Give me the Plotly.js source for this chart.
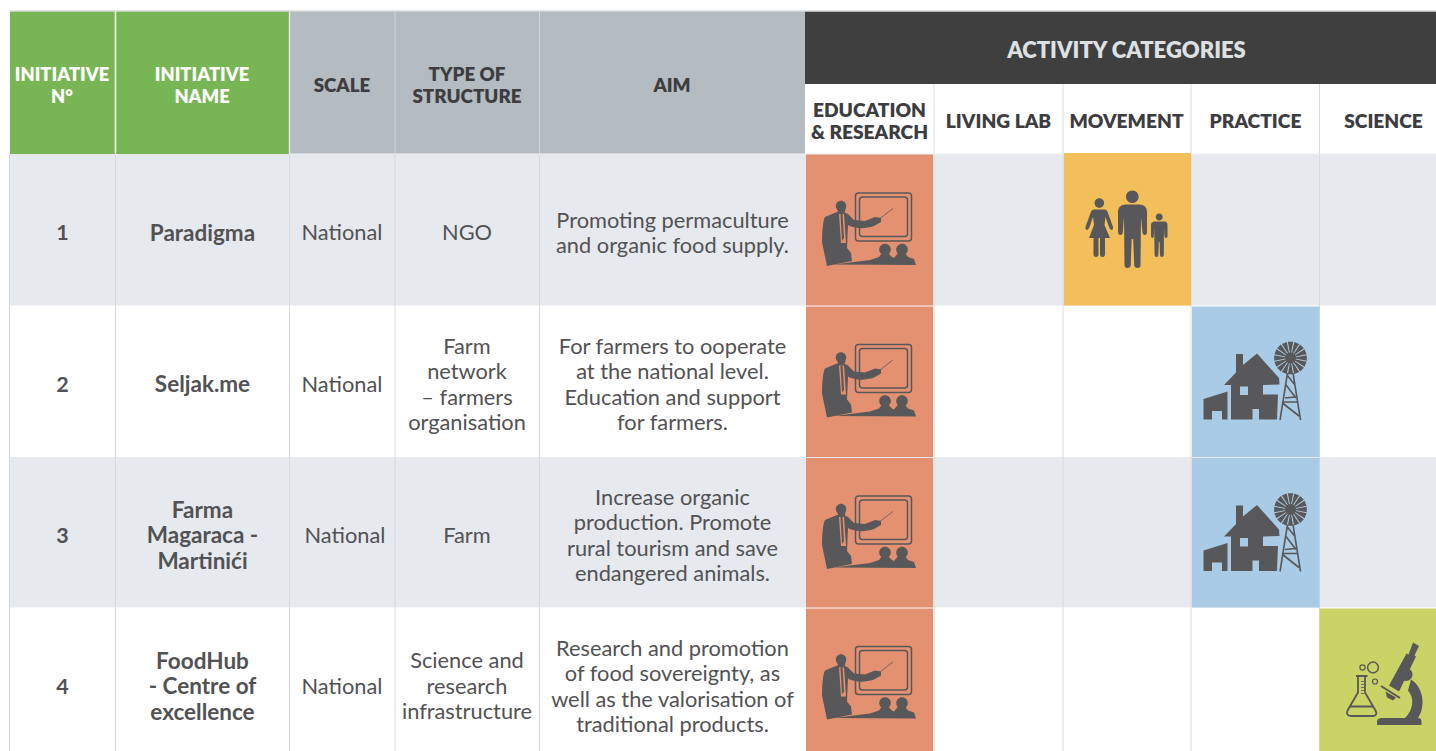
<!DOCTYPE html>
<html><head><meta charset="utf-8">
<script src="https://cdn.plot.ly/plotly-3.0.1.min.js"></script>
<style>html,body{margin:0;padding:0;background:#fff;overflow:hidden}</style></head>
<body><div id="chart" style="width:1436px;height:751px"></div>
<script>
// ---------- table content ----------
const groupHeader = "ACTIVITY CATEGORIES";
const leadHeaders = ["INITIATIVE<br>N°", "INITIATIVE<br>NAME", "SCALE", "TYPE OF<br>STRUCTURE", "AIM"];
const activityHeaders = ["EDUCATION<br>&amp; RESEARCH", "LIVING LAB", "MOVEMENT", "PRACTICE", "SCIENCE"];
const numbers = ["1", "2", "3", "4"];
const names = ["Paradigma", "Seljak.me", "Farma<br>Magaraca -<br>Martinići", "FoodHub<br>- Centre of<br>excellence"];
const scales = ["National", "National", "National", "National"];
const structures = ["NGO", "Farm<br>network<br>– farmers<br>organisation", "Farm", "Science and<br>research<br>infrastructure"];
const aims = [
  "Promoting permaculture<br>and organic food supply.",
  "For farmers to ooperate<br>at the national level.<br>Education and support<br>for farmers.",
  "Increase organic<br>production. Promote<br>rural tourism and save<br>endangered animals.",
  "Research and promotion<br>of food sovereignty, as<br>well as the valorisation of<br>traditional products."
];
const activities = [
  [1, 0, 1, 0, 0],
  [1, 0, 0, 1, 0],
  [1, 0, 0, 1, 0],
  [1, 0, 0, 0, 1]
];

// ---------- layout geometry and style ----------
const colEdges = [10, 115.5, 289.5, 395, 539.5, 805, 934, 1063, 1191, 1319.5, 1436];
const rowEdges = [154, 305.5, 457, 607.5, 751];
const tableTop = 11.5, groupBottom = 84;
const activityColors = ["#e39170", "#e6e9ee", "#f2bf5b", "#a9cbe6", "#cad365"];
const ink = "#58585a", dark = "#3d3d3f", bodyInk = "#525254", rule = "#d6dade";
const FONT = "Lato, 'Open Sans', sans-serif";

const shapes = [];
function rect(x0, y0, x1, y1, color) {
  shapes.push({type: "rect", layer: "below", xref: "x", yref: "y", x0, y0, x1, y1, fillcolor: color, line: {width: 0}});
}
function vline(x, y0, y1, color, w) {
  shapes.push({type: "line", layer: "below", xref: "x", yref: "y", x0: x, x1: x, y0, y1, line: {color, width: w || 1}});
}
function hline(y, x0, x1, color, w) {
  shapes.push({type: "line", layer: "below", xref: "x", yref: "y", y0: y, y1: y, x0, x1, line: {color, width: w || 1}});
}

// header fills
rect(colEdges[0], tableTop, colEdges[2], rowEdges[0], "#78b554");
rect(colEdges[2], tableTop, colEdges[5], rowEdges[0], "#b4bbc1");
rect(colEdges[5], tableTop, colEdges[10], groupBottom, "#3f3f3f");
hline(tableTop - 0.5, colEdges[0], colEdges[10], "#c4c7ca", 1);

// row stripes
numbers.forEach((_, r) => { if (r % 2 === 0) rect(colEdges[0], rowEdges[r], colEdges[10], rowEdges[r + 1], "#e6e9ee"); });

// rules
vline(colEdges[0] - 0.5, rowEdges[0], 751, rule, 1);
vline(colEdges[1], tableTop, rowEdges[0], "#ffffff", 1.5);
vline(colEdges[2], tableTop, rowEdges[0], "#e3e6e9", 1.5);
[3, 4].forEach(i => vline(colEdges[i], tableTop, rowEdges[0], "#d0d5d9", 1));
[1, 2, 3, 4].forEach(i => vline(colEdges[i], rowEdges[0], 751, rule, 1));
[6, 7, 8, 9].forEach(i => vline(colEdges[i], groupBottom, 751, rule, 1));
hline(rowEdges[0], colEdges[2], colEdges[10], "#eceef0", 1);

// ---------- icon drawings, in local units ----------
function circ(cx, cy, r) {
  const k = r * 0.5523;
  return `M${cx - r},${cy} C${cx - r},${cy - k} ${cx - k},${cy - r} ${cx},${cy - r} C${cx + k},${cy - r} ${cx + r},${cy - k} ${cx + r},${cy} C${cx + r},${cy + k} ${cx + k},${cy + r} ${cx},${cy + r} C${cx - k},${cy + r} ${cx - r},${cy + k} ${cx - r},${cy} Z`;
}
function rrect(x0, y0, x1, y1, r) {
  return `M${x0 + r},${y0} L${x1 - r},${y0} Q${x1},${y0} ${x1},${y0 + r} L${x1},${y1 - r} Q${x1},${y1} ${x1 - r},${y1} L${x0 + r},${y1} Q${x0},${y1} ${x0},${y1 - r} L${x0},${y0 + r} Q${x0},${y0} ${x0 + r},${y0} Z`;
}
function wheelBlades(cx, cy, r0, r1, n) {
  let d = "";
  for (let i = 0; i < n; i++) {
    const a = i / n * 2 * Math.PI, w0 = 0.11, w1 = 0.16;
    const p = (rad, ang) => `${(cx + rad * Math.cos(ang)).toFixed(2)},${(cy + rad * Math.sin(ang)).toFixed(2)}`;
    d += `M${p(r0, a - w0)} L${p(r1, a - w1)} L${p(r1, a + w1)} L${p(r0, a + w0)} Z `;
  }
  return d;
}
const iconLecture = [
  {d: rrect(45.5, 23, 101.5, 71, 3), lw: 1.5},
  {d: rrect(49.5, 27, 97.5, 66.5, 3), lw: 1.5},
  {d: circ(31, 36, 5.2)},
  {d: "M27,34 L36,34 L35,42 L28,43 Z"},
  {d: "M27,42 L15,47 C13,50 12,62 12,72 L17,96 L42,91 L41,83 L37,78 L38,55 C45,59 55,59 64,56 L71,52 L71,48 L65,47 L55,51 L44,50 L38,44 L34,42 Z M29,44 L34,44 L36,73 L31,73 Z"},
  {d: "M30.5,44 L32.5,44 L34,68 L32,71 Z"},
  {d: "M70,48.5 L83,38.4", lw: 0.8},
  {d: circ(75, 79.5, 5.8)},
  {d: circ(92, 79.5, 5.8)},
  {d: "M24,94.5 L60,90 L69,87 L72,83 L78,83 L82,87 L84,88 L88,83 L95,83 L98,87 L104,89 L106,95 Z"}
];
const iconFamily = [
  {d: circ(62.3, 26.8, 6.3)},
  {d: "M55,34.5 L70,34.5 Q77,35 77,42 L77,62 Q77,65 74.8,65 Q72.6,65 72.4,62 L71,47 L70.5,95 Q70.5,98 67.5,98 Q64.5,98 64.2,95 L63.2,69 L61.6,69 L60.8,95 Q60.5,98 57.5,98 Q54.5,98 54.5,95 L54,47 L52.8,62 Q52.6,65 50.4,65 Q48.2,65 48,62 L48,42 Q48,35 55,34.5 Z"},
  {d: circ(29.3, 33, 4.8)},
  {d: "M24,39.5 L35,39.5 Q37,39.5 38,43 L43,57 Q43.5,60 41.5,60 Q40,60 39,57 L35.5,47 L34.5,55 L40,68 L35,68 L35,84 Q35,87 32.5,87 Q30,87 30,84 L30,68 L28.5,68 L28.5,84 Q28.5,87 26,87 Q23.5,87 23.5,84 L23.5,68 L19,68 L24,55 L23,47 L19.5,57 Q18.5,60 17,60 Q15,60 15.5,57 L20.5,43 Q21.5,39.5 24,39.5 Z"},
  {d: circ(89.2, 47, 3.5)},
  {d: "M84,51.5 L95,51.5 Q97.5,52 97.5,55 L97.5,66 Q97.5,68 96,68 Q94.5,68 94.5,66 L94,58 L93.8,85 Q93.8,87 91.8,87 Q90,87 90,85 L89.6,72 L88.8,72 L88.4,85 Q88.4,87 86.4,87 Q84.8,87 84.6,85 L84.2,58 L83.8,66 Q83.8,68 82.4,68 Q81,68 81,66 L81,55 Q81,52 84,51.5 Z"}
];
const iconFarm = [
  {d: "M41,24 L48,24 L48,35 L62,23.5 L84,48 L84.5,54.5 L68,55 L68,64.5 L83,64.5 L82,89.5 L64,89.5 L64,79 L57.5,79 L57.5,89.5 L36,89.5 L36,55 L29,55 L41,42.5 Z M45,56.5 L53,56.5 L53,65 L45,65 Z"},
  {d: "M8.5,69 L32.5,61.5 L32.5,89.5 L27,89.5 L27,81 L17,81 L17,89.5 L8.5,89.5 Z"},
  {d: wheelBlades(95.5, 28, 4.5, 16.5, 16)},
  {d: circ(95.5, 28, 5.5)},
  {d: "M92.5,43 L85,90 M98,43 L105.5,90 M90,68 L100.5,67 M87.5,73 L104,86 M91,55 L101,68 M92,45 L100,55 M87.5,72 L103,72", lw: 1.6}
];
const iconLab = [
  {d: "M52,94.5 L52,91 Q52,88 56,87.5 L80,87.5 C88,80 90,68 83,60 L86,49 C100,58 100,78 93,87.5 L94,87.5 Q96.5,88 96.5,91 L96.5,94.5 Z"},
  {d: "M88,12 L94,15.5 L89.5,25 L91,26 L74,61 L64,55 L81.5,23 L83.5,24 Z"},
  {d: circ(81, 44, 6.5)},
  {d: "M56,55.5 L75,67.5", lw: 2},
  {d: "M60.5,61 L71,67 L68,70 L62,67 Z"},
  {d: "M31,45.5 L42.5,45.5 M33,46 L33,62 L22.5,80 Q20.5,85 26,85.5 L48,85.5 Q53,85 50.5,80 L40,62 L40,46 M25,76 L48,76", lw: 1.8},
  {d: "M36,51 L39,51 M36,54 L39,54 M36,57 L39,57 M36,60 L39,60 M36,63 L39,63", lw: 0.8},
  {d: circ(37.5, 37, 2.6), lw: 1.2},
  {d: circ(48, 37, 5.4), lw: 1.5},
  {d: circ(50, 51, 2.5), lw: 1.2}
];
// icon per activity column, plus the local-unit origin relative to the cell's top-left corner
const activityIcons = [
  {parts: iconLecture, dx: 5, dy: 16},
  null,
  {parts: iconFamily, dx: 7, dy: 16},
  {parts: iconFarm, dx: 4, dy: 24.5},
  {parts: iconLab, dx: 5.5, dy: 23}
];
function moved(d, ox, oy) {
  return d.replace(/(-?[\d.]+),(-?[\d.]+)/g, (m, a, b) => `${(+a + ox).toFixed(2)},${(+b + oy).toFixed(2)}`);
}
function drawIcon(icon, x, y) {
  icon.parts.forEach(p => shapes.push({
    type: "path", layer: "above", xref: "x", yref: "y",
    path: moved(p.d, x + icon.dx, y + icon.dy),
    fillcolor: p.lw ? "rgba(0,0,0,0)" : ink,
    line: p.lw ? {color: ink, width: p.lw} : {width: 0}
  }));
}

// activity cells
activities.forEach((row, r) => row.forEach((on, c) => {
  if (!on) return;
  const x0 = colEdges[5 + c] + (c === 4 ? 0 : 1), x1 = colEdges[6 + c] - (c === 0 ? 1 : 0);
  rect(x0, rowEdges[r] + (r === 0 ? (c === 0 ? 0.5 : -1) : 1), x1, rowEdges[r + 1], activityColors[c]);
  drawIcon(activityIcons[c], colEdges[5 + c], rowEdges[r]);
}));

// ---------- text: every line is placed on its own so the leading is set by the table ----------
const TEXT_SHIFT = 2;
function textTrace(xs, ys, texts, leading, color, weight, size) {
  const X = [], Y = [], T = [];
  texts.forEach((t, i) => {
    const lines = t.split("<br>");
    lines.forEach((line, j) => {
      X.push(xs[i]);
      Y.push(ys[i] + TEXT_SHIFT + (j - (lines.length - 1) / 2) * leading);
      T.push(line);
    });
  });
  return {type: "scatter", mode: "text", x: X, y: Y, text: T, textposition: "middle center", cliponaxis: false,
    hoverinfo: "skip", showlegend: false, textfont: {family: FONT, size, color, weight}};
}
const rowY = [233, 384.5, 535.5, 686.5];
const scaleX = scales.map((_, r) => 342 + (r === 2 ? 3 : 0));
const activityX = [869.5, 998.5, 1126.5, 1255.5, 1383.5];
const LEAD_HEAD = 22, LEAD_BODY = 25.5;
const data = [
  textTrace([62, 202], [85, 85], leadHeaders.slice(0, 2), LEAD_HEAD, "#ffffff", 800, 18.3),
  textTrace([342, 467, 672], [85, 85, 85], leadHeaders.slice(2), LEAD_HEAD, dark, 800, 18.8),
  textTrace([1126.5], [50.5], [groupHeader], 0, "#dde1e4", 800, 22),
  textTrace(activityX, activityHeaders.map(() => 121), activityHeaders, LEAD_HEAD, dark, 800, 19.2),
  textTrace(numbers.map(() => 62.5), rowY, numbers, LEAD_BODY, bodyInk, 700, 21.5),
  textTrace(numbers.map(() => 202.5), rowY, names, LEAD_BODY, bodyInk, 700, 22.5),
  textTrace(scaleX, rowY, scales, LEAD_BODY, bodyInk, 400, 21.8),
  textTrace(numbers.map(() => 467), rowY, structures, LEAD_BODY, bodyInk, 400, 21.8),
  textTrace(numbers.map(() => 672.5), rowY, aims, LEAD_BODY, bodyInk, 400, 21.8)
];

Plotly.newPlot("chart", data, {
  width: 1436, height: 751, margin: {l: 0, r: 0, t: 0, b: 0},
  paper_bgcolor: "#ffffff", plot_bgcolor: "#ffffff",
  xaxis: {range: [0, 1436], visible: false, fixedrange: true},
  yaxis: {range: [751, 0], visible: false, fixedrange: true},
  shapes, showlegend: false, hovermode: false
}, {displayModeBar: false, staticPlot: true});
</script></body></html>
